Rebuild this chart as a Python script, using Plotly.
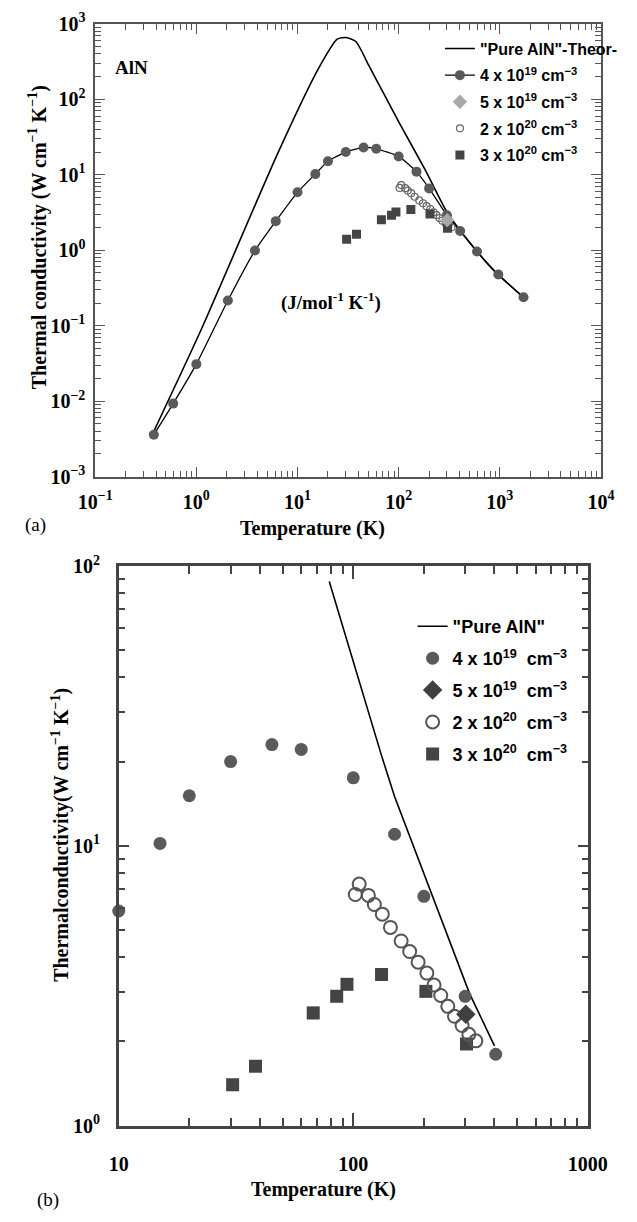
import plotly.graph_objects as go

# ---------------- data ----------------
# "Pure AlN" theoretical curve, panel (a)
pureA_T = [0.37, 1.15, 6.36, 16.1, 24.7, 30.2, 37.9, 50.5, 72.1, 103, 183, 301, 497, 881, 1714]
pureA_k = [0.0037, 0.097, 19.1, 255, 626, 658, 578, 283, 115, 46.9, 11.6, 3.18, 1.30, 0.53, 0.238]

# "Pure AlN" curve, panel (b)
pureB_T = [79, 94, 132, 150, 217, 250, 313, 400]
pureB_k = [88, 54, 21, 15, 6.65, 4.8, 2.97, 1.93]

# 4 x 10^19 cm^-3
c4_T = [0.38, 0.59, 1.0, 2.05, 3.8, 6.1, 10, 15, 20, 30, 45, 60, 100, 150, 200, 300, 405, 595, 966, 1714]
c4_k = [0.0036, 0.0093, 0.031, 0.216, 0.99, 2.43, 5.85, 10.2, 15.1, 20.0, 23.0, 22.1, 17.5, 11.0, 6.6, 2.9, 1.8, 0.96, 0.477, 0.238]

# 5 x 10^19 cm^-3
c5_T = [302]
c5_k = [2.5]

# 2 x 10^20 cm^-3
c2_T = [102, 106, 116, 123, 133, 144, 160, 174, 189, 206, 221, 236, 253, 270, 291, 311, 333]
c2_k = [6.7, 7.3, 6.65, 6.17, 5.70, 5.11, 4.57, 4.19, 3.84, 3.51, 3.18, 2.92, 2.67, 2.46, 2.28, 2.12, 2.01]

# 3 x 10^20 cm^-3
c3_T = [30.6, 38.3, 67.5, 85, 94, 132, 204, 304]
c3_k = [1.40, 1.63, 2.53, 2.90, 3.2, 3.47, 3.02, 1.96]

names = ['"Pure AlN"-Theor-',
         "4 x 10<sup>19</sup> cm<sup>\u22123</sup>",
         "5 x 10<sup>19</sup> cm<sup>\u22123</sup>",
         "2 x 10<sup>20</sup> cm<sup>\u22123</sup>",
         "3 x 10<sup>20</sup> cm<sup>\u22123</sup>"]
names_b = ['"Pure AlN"',
           "4 x 10<sup>19</sup>  cm<sup>\u22123</sup>",
           "5 x 10<sup>19</sup>  cm<sup>\u22123</sup>",
           "2 x 10<sup>20</sup>  cm<sup>\u22123</sup>",
           "3 x 10<sup>20</sup>  cm<sup>\u22123</sup>"]

xa_ticks = [0.1, 1, 10, 100, 1000, 10000]
xa_text = ["10<sup>\u22121</sup>", "10<sup>0</sup>", "10<sup>1</sup>", "10<sup>2</sup>", "10<sup>3</sup>", "10<sup>4</sup>"]
ya_ticks = [0.001, 0.01, 0.1, 1, 10, 100, 1000]
ya_text = ["10<sup>\u22123</sup>", "10<sup>\u22122</sup>", "10<sup>\u22121</sup>", "10<sup>0</sup>",
           "10<sup>1</sup>", "10<sup>2</sup>", "10<sup>3</sup>"]
xb_ticks = [10, 100, 1000]
xb_text = ["10", "100", "1000"]
yb_ticks = [1, 10, 100]
yb_text = ["10<sup>0</sup>", "10<sup>1</sup>", "10<sup>2</sup>"]

# ---------------- styling ----------------
W, H = 637, 1222
SERIF = "Liberation Serif, Times New Roman, serif"
SANS = "Liberation Sans, Arial, sans-serif"
C_CIRC = "#5a5a5a"
C_SQ = "#444444"

def minor_vals(lo, hi):
    return [d * 10.0 ** e for e in range(lo, hi) for d in range(2, 10)]

fig = go.Figure()

# ----- panel (a) -----
fig.add_trace(go.Scatter(x=pureA_T, y=pureA_k, mode="lines", name=names[0],
                         line=dict(color="black", width=1.6, shape="spline", smoothing=0.6),
                         xaxis="x", yaxis="y", legend="legend", legendgroup="a1", legendrank=1))
fig.add_trace(go.Scatter(x=c4_T, y=c4_k, mode="lines+markers", name=names[1],
                         line=dict(color="black", width=1.3, shape="spline", smoothing=0.5),
                         marker=dict(symbol="circle", size=10, color=C_CIRC),
                         xaxis="x", yaxis="y", legend="legend", legendgroup="a2", legendrank=2))
fig.add_trace(go.Scatter(x=c2_T, y=c2_k, mode="markers", name=names[3],
                         marker=dict(symbol="circle-open", size=7, color="#666666", line=dict(width=1.2)),
                         xaxis="x", yaxis="y", legend="legend", legendgroup="a4", legendrank=4))
fig.add_trace(go.Scatter(x=c3_T, y=c3_k, mode="markers", name=names[4],
                         marker=dict(symbol="square", size=9, color=C_SQ),
                         xaxis="x", yaxis="y", legend="legend", legendgroup="a5", legendrank=5))
fig.add_trace(go.Scatter(x=c5_T, y=c5_k, mode="markers", name=names[2],
                         marker=dict(symbol="diamond", size=11, color="#a8a8a8"),
                         xaxis="x", yaxis="y", legend="legend", legendgroup="a3", legendrank=3))

# ----- panel (b) -----
c4b_T = [t for t in c4_T if 9 <= t <= 450]
c4b_k = [k for t, k in zip(c4_T, c4_k) if 9 <= t <= 450]

fig.add_trace(go.Scatter(x=pureB_T, y=pureB_k, mode="lines", name=names_b[0],
                         line=dict(color="black", width=1.6),
                         xaxis="x2", yaxis="y2", legend="legend2", legendgroup="b1", legendrank=1))
fig.add_trace(go.Scatter(x=c4b_T, y=c4b_k, mode="markers", name=names_b[1],
                         marker=dict(symbol="circle", size=13, color=C_CIRC),
                         xaxis="x2", yaxis="y2", legend="legend2", legendgroup="b2", legendrank=2,
                         cliponaxis=False))
fig.add_trace(go.Scatter(x=c3_T, y=c3_k, mode="markers", name=names_b[4],
                         marker=dict(symbol="square", size=13, color=C_SQ),
                         xaxis="x2", yaxis="y2", legend="legend2", legendgroup="b5", legendrank=5))
fig.add_trace(go.Scatter(x=c2_T, y=c2_k, mode="markers", name=names_b[3],
                         marker=dict(symbol="circle-open", size=13, color="#555555", line=dict(width=2)),
                         xaxis="x2", yaxis="y2", legend="legend2", legendgroup="b4", legendrank=4))
fig.add_trace(go.Scatter(x=c5_T, y=c5_k, mode="markers", name=names_b[2],
                         marker=dict(symbol="diamond", size=15, color="#404040"),
                         xaxis="x2", yaxis="y2", legend="legend2", legendgroup="b3", legendrank=3))

tickfont = dict(family=SERIF, size=20, color="black", weight="bold")

def axis_common(color, lw, major_len, tw):
    return dict(type="log", showgrid=False, zeroline=False, showline=True, linecolor=color,
                linewidth=lw, mirror="ticks", ticks="inside", tickcolor=color,
                ticklen=major_len, tickwidth=tw, tickmode="array", tickfont=tickfont)

xa = axis_common("#555555", 1.6, 10, 1.4)
xa.update(domain=[83 / W, 620 / W], range=[-1, 4], tickvals=xa_ticks, ticktext=xa_text,
          anchor="y", ticklabelstandoff=6,
          minor=dict(tickmode="array", tickvals=minor_vals(-1, 4), ticks="inside", ticklen=6,
                     tickcolor="#555555", tickwidth=1.4))
ya = axis_common("#555555", 1.6, 10, 1.4)
ya.update(domain=[1 - 473 / H, 1 - 11 / H], range=[-3, 3], tickvals=ya_ticks, ticktext=ya_text,
          anchor="x", ticklabelstandoff=4,
          minor=dict(tickmode="array", tickvals=minor_vals(-3, 3), ticks="inside", ticklen=6,
                     tickcolor="#555555", tickwidth=1.4))
xb = axis_common("#444444", 2.6, 13, 2.4)
xb.update(domain=[108 / W, 606 / W], range=[1, 3], tickvals=xb_ticks, ticktext=xb_text,
          anchor="y2", ticklabelstandoff=18,
          minor=dict(tickmode="array", tickvals=minor_vals(1, 3), ticks="inside", ticklen=8,
                     tickcolor="#444444", tickwidth=2.4))
yb = axis_common("#444444", 2.6, 10, 2.4)
yb.update(domain=[1 - 1135 / H, 1 - 564 / H], range=[0, 2], tickvals=yb_ticks, ticktext=yb_text,
          anchor="x2", ticklabelstandoff=12,
          minor=dict(tickmode="array", tickvals=minor_vals(0, 2), ticks="inside", ticklen=6,
                     tickcolor="#444444", tickwidth=2.4))

def ann(text, x, y, size=20, angle=0, weight="bold", family=SERIF):
    return dict(text=text, x=x / W, y=1 - y / H, xref="paper", yref="paper",
                showarrow=False, textangle=angle, xanchor="center", yanchor="middle",
                font=dict(family=family, size=size, color="black", weight=weight))

annotations = [
    ann("Temperature (K)", 314, 526),
    ann("Thermal conductivity (W cm<sup>\u22121</sup> K<sup>\u22121</sup>)", 22, 229, angle=-90),
    ann("AlN", 122, 56, size=19),
    ann("(J/mol<sup>-1</sup> K<sup>-1</sup>)", 333, 294, size=19),
    ann("(a)", 20, 522, size=19, weight="normal"),
    ann("Temperature (K)", 325, 1200),
    ann("Thermalconductivity(W cm<sup>\u22121</sup> K<sup>\u22121</sup>)", 46, 838, angle=-90),
    ann("(b)", 33, 1211, size=19, weight="normal"),
]

fig.update_layout(
    width=W, height=H, margin=dict(l=0, r=0, t=0, b=0),
    paper_bgcolor="white", plot_bgcolor="white",
    xaxis=xa, yaxis=ya, xaxis2=xb, yaxis2=yb,
    annotations=annotations,
    legend=dict(x=449 / W, y=1 - 19 / H, xanchor="left", yanchor="top",
                bgcolor="rgba(0,0,0,0)", borderwidth=0, traceorder="grouped",
                tracegroupgap=2.8,
                font=dict(family=SANS, size=16, color="black", weight="bold")),
    legend2=dict(x=420 / W, y=1 - 607 / H, xanchor="left", yanchor="top",
                 bgcolor="rgba(0,0,0,0)", borderwidth=0, traceorder="grouped",
                 tracegroupgap=5.5,
                 font=dict(family=SANS, size=18, color="black", weight="bold")),
)

fig.write_html("out.html")
